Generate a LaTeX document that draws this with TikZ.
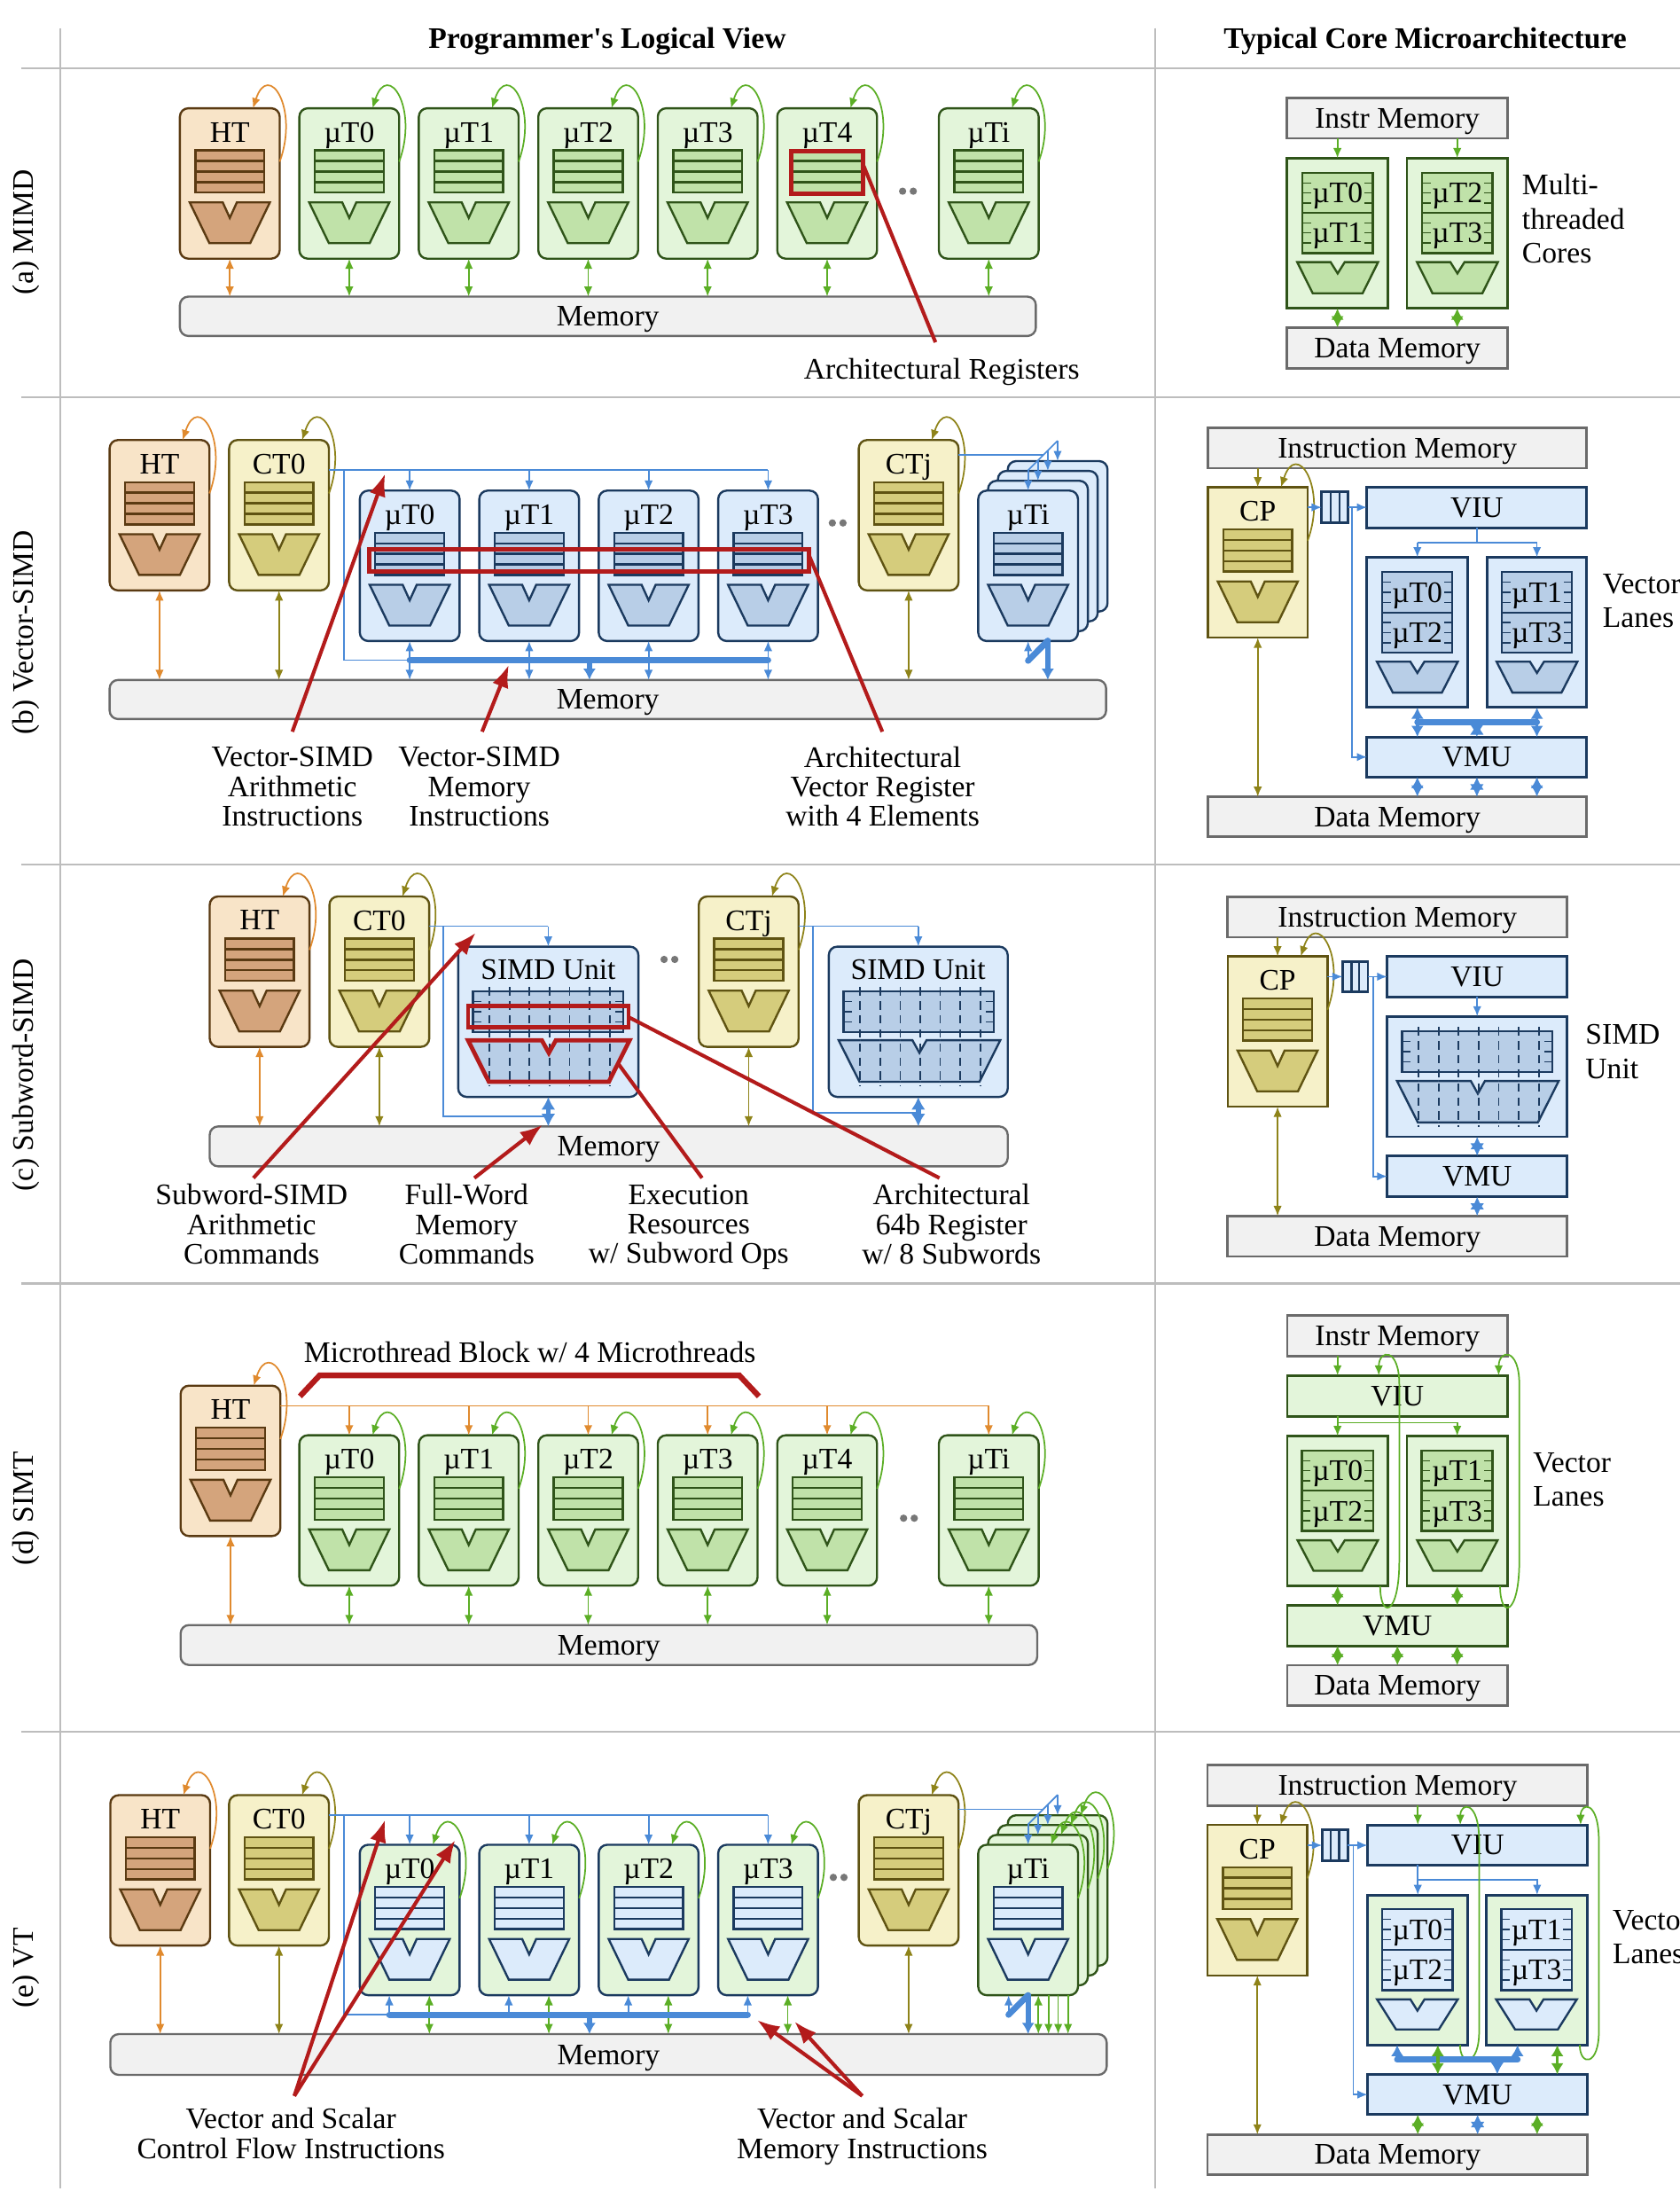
\documentclass[tikz,border=0pt]{standalone}
\usepackage{fontspec}
\setmainfont{Liberation Serif}
\usetikzlibrary{arrows.meta,calc}

\definecolor{htf}{HTML}{F8E4C8}
\definecolor{htd}{HTML}{5A3A12}
\definecolor{hti}{HTML}{D4A47C}
\definecolor{hta}{HTML}{E08A2E}
\definecolor{utf}{HTML}{E3F5DA}
\definecolor{utd}{HTML}{2F5419}
\definecolor{uti}{HTML}{C0E2A9}
\definecolor{uta}{HTML}{5BAE25}
\definecolor{ctf}{HTML}{F6F1C9}
\definecolor{ctd}{HTML}{5F5312}
\definecolor{cti}{HTML}{D5CC7C}
\definecolor{cta}{HTML}{8E8319}
\definecolor{vtf}{HTML}{DCEBFB}
\definecolor{vtd}{HTML}{1B3A5F}
\definecolor{vti}{HTML}{B8CEE7}
\definecolor{vta}{HTML}{4A8AD7}
\definecolor{redc}{HTML}{B31B1B}
\definecolor{memf}{HTML}{F1F1F1}
\definecolor{memd}{HTML}{6A6A6A}
\definecolor{sepc}{HTML}{BDBDBD}
\definecolor{dotc}{HTML}{777777}

\newcommand{\fs}{\fontsize{10.6}{10.5}\selectfont}

\tikzset{
  txt/.style={inner sep=0pt},
  lbl/.style={inner sep=0pt, align=center},
  side/.style={inner sep=0pt, align=left, font=\fontsize{10.6}{12.1}\selectfont},
  lvbox/.style={rounded corners=3pt, line width=0.75pt, inner sep=0pt, outer sep=0pt},
  sqbox/.style={line width=0.9pt, inner sep=0pt, outer sep=0pt},
  memory/.style={fill=memf, draw=memd},
  sepline/.style={draw=sepc, line width=0.7pt},
  htbox/.style={fill=htf, draw=htd}, htreg/.style={fill=hti, draw=htd, line width=0.75pt},
  utbox/.style={fill=utf, draw=utd}, utreg/.style={fill=uti, draw=utd, line width=0.75pt},
  ctbox/.style={fill=ctf, draw=ctd}, ctreg/.style={fill=cti, draw=ctd, line width=0.75pt},
  vtbox/.style={fill=vtf, draw=vtd}, vtreg/.style={fill=vti, draw=vtd, line width=0.75pt},
  vgbox/.style={fill=utf, draw=vtd}, vgreg/.style={fill=vtf, draw=vtd, line width=0.75pt},
  vsbox/.style={fill=utf, draw=utd}, vsreg/.style={fill=vtf, draw=vtd, line width=0.75pt},
  harr/.style={draw=hta, line width=0.55pt},
  garr/.style={draw=uta, line width=0.55pt},
  carr/.style={draw=cta, line width=0.55pt},
  barr/.style={draw=vta, line width=0.55pt},
  gbig/.style={draw=uta, line width=1.1pt, >={Latex[length=4pt,width=4.5pt]}},
  bmid/.style={draw=vta, line width=1.1pt, >={Latex[length=4pt,width=4.5pt]}},
  bbig/.style={draw=vta, line width=1.8pt, >={Latex[length=4.5pt,width=5pt]}},
  busarr/.style={draw=vta, line width=1.8pt, >={Latex[length=4pt,width=4.5pt]}},
  bus/.style={draw=vta, line width=2.2pt, line cap=round},
  redhl/.style={draw=redc, line width=1.5pt},
  redln/.style={draw=redc, line width=1.3pt},
  redarr/.style={draw=redc, line width=1.3pt, -{Latex[length=8pt,width=6pt]}},
  redbr/.style={draw=redc, line width=2pt},
  redalu/.style={draw=redc, line width=1.5pt, fill=none}
}

\newcommand{\alu}[7]{%
  \filldraw[#7] ({#1},{#3}) -- ({(#1+#2)/2-5},{#3}) -- ({(#1+#2)/2},{#3+#6})
    -- ({(#1+#2)/2+5},{#3}) -- ({#2},{#3}) -- ({#2-#5},{#4}) -- ({#1+#5},{#4}) -- cycle;}

\newcommand{\lvunit}[6]{%
  \node[lvbox,#5box,#6,minimum width=35.5pt,minimum height=53.5pt,anchor=north west] (#1) at ({#2},{#3}) {};
  \node[txt] (#1l) at ({#2+35.5},{#3+17}) {#4};
  \filldraw[#5reg] ({#2+11},{#3+30}) rectangle ({#2+60},{#3+60});
  \foreach \yy in {37.5,45,52.5} {\draw[#5reg] ({#2+11},{#3+\yy}) -- ({#2+60},{#3+\yy});}
  \alu{#2+7}{#2+64}{#3+67}{#3+96}{14}{11}{#5reg}}

\newcommand{\selfloop}[2]{%
  \draw[#2,->] ($(#1.north west)+(71,38)$) .. controls ($(#1.north west)+(85,0)$) and ($(#1.north west)+(63,-34)$) .. ($(#1.north west)+(52,0)$);}

\newcommand{\rbox}[7]{%
  \pgfmathsetmacro\rbw{(#4-#2)/2}\pgfmathsetmacro\rbh{(#5-#3)/2}%
  \node[#6,minimum width=\rbw pt,minimum height=\rbh pt] (#1) at ({(#2+#4)/2},{(#3+#5)/2}) {#7};}

\newcommand{\trreg}[8]{%
  \filldraw[#6] (#2,#3) rectangle (#4,#5);
  \draw[#6] (#2,{(#3+#5)/2}) -- (#4,{(#3+#5)/2});
  \foreach \ff in {0.125,0.25,0.375,0.625,0.75,0.875} {%
    \draw[#6,line width=0.45pt] (#2,{#3+\ff*(#5-#3)}) -- ++(6,0);
    \draw[#6,line width=0.45pt] (#4,{#3+\ff*(#5-#3)}) -- ++(-6,0);}
  \node[txt] (#1a) at ({(#2+#4)/2},{#3+0.25*(#5-#3)}) {#7};
  \node[txt] (#1b) at ({(#2+#4)/2},{#3+0.75*(#5-#3)}) {#8};}

\newcommand{\simdcore}[4]{%
  \filldraw[#4] ({#1+10.5},{#2}) rectangle ({#1+117.5},{#2+29});
  \foreach \ff in {0.25,0.5,0.75} {%
    \draw[#4,line width=0.45pt] ({#1+10.5},{#2+29*\ff}) -- ++(6,0);
    \draw[#4,line width=0.45pt] ({#1+117.5},{#2+29*\ff}) -- ++(-6,0);}
  \alu{#1+7}{#1+122}{#3}{#3+29.5}{14.8}{9}{#4}
  \foreach \dd in {0,...,6} {\draw[#4,densely dashed,line width=0.55pt] ({#1+22.3+14.25*\dd},{#2-3}) -- ({#1+22.3+14.25*\dd},{#3+33});}}

\newcommand{\ellip}[3]{%
  \coordinate (#1) at (#2,#3);
  \fill[dotc] ($(#1)+(-3.8,0)$) circle (1.3pt) ($(#1)+(3.8,0)$) circle (1.3pt);}

\begin{document}
\begin{tikzpicture}[x=0.5pt,y=-0.5pt,font=\fs,>={Latex[length=3.6pt,width=3pt]},every node/.append style={text depth=0pt}]
\useasboundingbox (0,0) rectangle (1195,1570);

% headings and rules
\node[txt,font=\fs\bfseries] (hlv) at (432,27) {Programmer\textquotesingle s Logical View};
\node[txt,font=\fs\bfseries] (hcm) at (1014,27) {Typical Core Microarchitecture};
\draw[sepline] (15,48.6) -- (1195,48.6);
\foreach \yy in {282.8,615,913,1232} {\draw[sepline] (15,\yy) -- (1195,\yy);}
\draw[sepline] (43,20) -- (43,1557);
\draw[sepline] (822,20) -- (822,1557);
\node[txt,rotate=90] (sa) at (16,165) {(a) MIMD};
\node[txt,rotate=90] (sb) at (16,450) {(b) Vector-SIMD};
\node[txt,rotate=90] (sc) at (16,765) {(c) Subword-SIMD};
\node[txt,rotate=90] (sd) at (16,1073) {(d) SIMT};
\node[txt,rotate=90] (se) at (16,1400) {(e) VT};

% (a) MIMD
\lvunit{aht}{128}{77}{HT}{ht}{}
\foreach \k/\lab in {0/µT0,1/µT1,2/µT2,3/µT3,4/µT4} {\lvunit{aut\k}{213+85*\k}{77}{\lab}{ut}{}}
\lvunit{auti}{668}{77}{µTi}{ut}{}
\rbox{mema}{128}{211}{737}{239}{memory,lvbox}{Memory}
\selfloop{aht}{harr}
\draw[harr,<->] (aht.south) -- (aht.south |- mema.north);
\foreach \nd in {aut0,aut1,aut2,aut3,aut4,auti} {\selfloop{\nd}{garr}
  \draw[garr,<->] (\nd.south) -- (\nd.south |- mema.north);}
\ellip{adots}{646}{136}
\draw[redhl] (563,107.5) rectangle (614,138);
\node[txt] (aar) at (670,262) {Architectural Registers};
\coordinate (aarp) at (614.5,118);
\coordinate (aarq) at (665.6,243.5);
\draw[redln] (aarp) -- (aarq);

\rbox{ima}{915.8}{69.8}{1072.6}{98.4}{memory,sqbox}{Instr Memory}
\rbox{ca0}{915.8}{112.5}{987.4}{219.4}{utbox,sqbox}{}
\rbox{ca1}{1001}{112.5}{1072.6}{219.4}{utbox,sqbox}{}
\trreg{ra0}{926.6}{123}{976.7}{180}{utreg}{µT0}{µT1}
\trreg{ra1}{1011.8}{123}{1061.9}{180}{utreg}{µT2}{µT3}
\alu{923}{980.5}{186.5}{208.6}{11}{8}{utreg}
\alu{1008.2}{1065.7}{186.5}{208.6}{11}{8}{utreg}
\rbox{dma}{915.8}{233}{1072.6}{262}{memory,sqbox}{Data Memory}
\foreach \nd in {ca0,ca1} {\draw[garr,->] (\nd.north |- ima.south) -- (\nd.north);
  \draw[gbig,<->] (\nd.south) -- (\nd.south |- dma.north);}
\node[side,anchor=west] (mtc) at (1082.6,155.5) {Multi-\\threaded\\Cores};

% (b) Vector-SIMD
\lvunit{bht}{78}{313}{HT}{ht}{}
\lvunit{bct0}{163}{313}{CT0}{ct}{}
\foreach \k/\lab in {0/µT0,1/µT1,2/µT2,3/µT3} {\lvunit{bt\k}{256+85*\k}{349}{\lab}{vt}{}}
\lvunit{bctj}{611}{313}{CTj}{ct}{}
\foreach \k in {3,2,1} {\node[lvbox,vtbox,minimum width=35.5pt,minimum height=53.5pt,anchor=north west] (bs\k) at ({696+7*\k},{349-7*\k}) {};}
\lvunit{bti}{696}{349}{µTi}{vt}{}
\rbox{memb}{78}{483.7}{787}{511.5}{memory,lvbox}{Memory}
\selfloop{bht}{harr}
\selfloop{bct0}{carr}
\selfloop{bctj}{carr}
\draw[harr,<->] (bht.south) -- (bht.south |- memb.north);
\draw[carr,<->] (bct0.south) -- (bct0.south |- memb.north);
\draw[carr,<->] (bctj.south) -- (bctj.south |- memb.north);
\coordinate (bsp) at (244.6,334.4);
\coordinate (bbb) at (244.6,469.6);
\draw[barr] (bct0.east |- bsp) -- (bt3.north |- bsp);
\foreach \k in {0,...,3} {\draw[barr,->] (bt\k.north |- bsp) -- (bt\k.north);
  \draw[barr,<->] (bt\k.south) -- (bt\k.south |- memb.north);}
\draw[barr] (bsp) -- (bbb) -- (bt0.south |- bbb);
\draw[bus] (bt0.south |- bbb) -- (bt3.south |- bbb);
\coordinate (bbm) at (419.4,469.6);
\draw[busarr,->] (bbm) -- (bbm |- memb.north);
\coordinate (bfj) at (742.5,323.5);
\draw[barr] (bctj.east |- bfj) -- (bfj);
\draw[barr] ([yshift=7.25pt]bs3.north) -- ([yshift=7.25pt]bti.north);
\foreach \nd in {bs3,bs2,bs1,bti} {\draw[barr,->] ([yshift=7.25pt]\nd.north) -- (\nd.north);}
\coordinate (bsb) at (731.5,470);
\coordinate (bsd) at (745.5,455.8);
\draw[barr,->] (bsb) -- (bsb |- bti.south);
\draw[bus] (bsb) -- (bsd);
\draw[busarr,->] (bsd) -- (bsd |- memb.north);
\ellip{bdots}{596}{372}
\draw[redhl] (262.5,390.6) rectangle (575.8,406.4);
\node[lbl] (lbva) at (208,559.5) {Vector-SIMD\\Arithmetic\\Instructions};
\node[lbl] (lbvm) at (341,559.5) {Vector-SIMD\\Memory\\Instructions};
\node[lbl] (lbar) at (628,559.5) {Architectural\\Vector Register\\with 4 Elements};
\coordinate (bra) at (208,520.5);
\coordinate (brm) at (343,520.5);
\coordinate (brr) at (627.8,520.5);
\draw[redarr] (bra) -- (274,337);
\draw[redarr] (brm) -- (362,473);
\draw[redln] (brr) -- (575.8,395.4);

\rbox{imb}{859.4}{304.3}{1129}{333}{memory,sqbox}{Instruction Memory}
\lvunit{cpb}{859.4}{346.6}{CP}{ct}{sharp corners}
\rbox{qb}{940.4}{350}{959.3}{371.8}{vtbox,sqbox}{}
\draw[vtreg] (946.7,350) -- (946.7,371.8) (953,350) -- (953,371.8);
\rbox{viub}{972.6}{346.6}{1129}{375.4}{vtbox,sqbox}{VIU}
\rbox{lb0}{972.6}{396.4}{1044.3}{503.3}{vtbox,sqbox}{}
\rbox{lb1}{1058}{396.4}{1129}{503.3}{vtbox,sqbox}{}
\trreg{rb0}{983.5}{407}{1033.3}{464.4}{vtreg}{µT0}{µT2}
\trreg{rb1}{1068.6}{407}{1118.4}{464.4}{vtreg}{µT1}{µT3}
\alu{979.7}{1037.2}{470.7}{492.7}{11.3}{8}{vtreg}
\alu{1064.8}{1122.3}{470.7}{492.7}{11.3}{8}{vtreg}
\rbox{vmub}{972.6}{524.3}{1129}{552.7}{vtbox,sqbox}{VMU}
\rbox{dmb}{859.4}{566.8}{1129}{595.2}{memory,sqbox}{Data Memory}
\draw[carr,->] (cpb.north |- imb.south) -- (cpb.north);
\draw[carr,<->] (cpb.south) -- (cpb.south |- dmb.north);
\selfloop{cpb}{carr}
\draw[barr,->] (cpb.east |- qb.west) -- (qb.west);
\draw[barr,->] (qb.east) -- (viub.west |- qb.east);
\coordinate (qbs) at (962,360.9);
\draw[barr,->] (qbs) -- (qbs |- vmub.west) -- (vmub.west);
\coordinate (vbr) at (1050.8,385.9);
\draw[barr] (viub.south) -- (vbr);
\draw[barr] (lb0.north |- vbr) -- (lb1.north |- vbr);
\draw[barr,->] (lb0.north |- vbr) -- (lb0.north);
\draw[barr,->] (lb1.north |- vbr) -- (lb1.north);
\coordinate (vbb) at (1050.8,513.6);
\draw[bus] (lb0.south |- vbb) -- (lb1.south |- vbb);
\foreach \nd in {lb0,lb1} {\draw[bmid,<->] (\nd.south) -- (\nd.south |- vmub.north);
  \draw[bmid,<->] (\nd.south |- vmub.south) -- (\nd.south |- dmb.north);}
\draw[bbig,<->] (vbb) -- (vbb |- vmub.north);
\draw[bbig,<->] (vmub.south) -- (vmub.south |- dmb.north);
\node[side,anchor=west] (vlb) at (1140,427.5) {Vector\\Lanes};

% (c) Subword-SIMD
\lvunit{cht}{149.2}{637.7}{HT}{ht}{}
\lvunit{cct0}{234.4}{637.7}{CT0}{ct}{}
\rbox{cs0}{326}{673.4}{454.2}{780.3}{vtbox,lvbox}{}
\node[txt] (cs0l) at (390.1,689.8) {SIMD Unit};
\simdcore{326}{705.2}{740}{vtreg}
\lvunit{cctj}{497.2}{637.7}{CTj}{ct}{}
\rbox{cs1}{589.7}{673.4}{717}{780.3}{vtbox,lvbox}{}
\node[txt] (cs1l) at (653.3,689.8) {SIMD Unit};
\simdcore{589.7}{705.2}{740}{vtreg}
\rbox{memc}{149.2}{801.3}{717}{829.7}{memory,lvbox}{Memory}
\selfloop{cht}{harr}
\selfloop{cct0}{carr}
\selfloop{cctj}{carr}
\draw[harr,<->] (cht.south) -- (cht.south |- memc.north);
\draw[carr,<->] (cct0.south) -- (cct0.south |- memc.north);
\draw[carr,<->] (cctj.south) -- (cctj.south |- memc.north);
\coordinate (csp0) at (315.3,658.9);
\coordinate (csb0) at (315.3,793.9);
\draw[barr] (cct0.east |- csp0) -- (cs0.north |- csp0);
\draw[barr,->] (cs0.north |- csp0) -- (cs0.north);
\draw[barr] (csp0) -- (csb0) -- (cs0.south |- csb0);
\draw[bbig,<->] (cs0.south) -- (cs0.south |- memc.north);
\coordinate (csp1) at (578.2,658.9);
\coordinate (csb1) at (578.2,791.4);
\draw[barr] (cctj.east |- csp1) -- (cs1.north |- csp1);
\draw[barr,->] (cs1.north |- csp1) -- (cs1.north);
\draw[barr] (csp1) -- (csb1) -- (cs1.south |- csb1);
\draw[bbig,<->] (cs1.south) -- (cs1.south |- memc.north);
\ellip{cdots}{476.3}{682.5}
\draw[redhl] (333,715.5) rectangle (447.2,730.8);
\alu{333}{448}{740}{769.5}{14.8}{9}{redalu}
\node[lbl] (lcs) at (179,870.7) {Subword-SIMD\\Arithmetic\\Commands};
\node[lbl] (lcf) at (332,870.7) {Full-Word\\Memory\\Commands};
\node[lbl] (lce) at (490,870.7) {Execution\\Resources\\w/ Subword Ops};
\node[lbl] (lca) at (677,870.7) {Architectural\\64b Register\\w/ 8 Subwords};
\coordinate (crs) at (180.3,838);
\coordinate (crf) at (337.5,838);
\coordinate (cre) at (499.5,838);
\coordinate (cra) at (668.4,838);
\draw[redarr] (crs) -- (338.5,663.5);
\draw[redarr] (crf) -- (386,800.2);
\draw[redln] (cre) -- (439.4,756);
\draw[redln] (cra) -- (447.2,723.5);

\rbox{imc}{873.5}{637.9}{1115}{666.7}{memory,sqbox}{Instruction Memory}
\lvunit{cpc}{873.5}{680.3}{CP}{ct}{sharp corners}
\rbox{qc}{955.2}{683.9}{973.3}{705.6}{vtbox,sqbox}{}
\draw[vtreg] (961.5,683.9) -- (961.5,705.6) (967,683.9) -- (967,705.6);
\rbox{viuc}{987}{680.3}{1115}{709.1}{vtbox,sqbox}{VIU}
\rbox{sc}{987}{723}{1115}{808.6}{vtbox,sqbox}{}
\simdcore{987}{733.6}{769}{vtreg}
\rbox{vmuc}{987}{822.3}{1115}{851.3}{vtbox,sqbox}{VMU}
\rbox{dmc}{873.5}{865}{1115}{893.8}{memory,sqbox}{Data Memory}
\draw[carr,->] (cpc.north |- imc.south) -- (cpc.north);
\draw[carr,<->] (cpc.south) -- (cpc.south |- dmc.north);
\selfloop{cpc}{carr}
\draw[barr,->] (cpc.east |- qc.west) -- (qc.west);
\draw[barr,->] (qc.east) -- (viuc.west |- qc.east);
\coordinate (qcs) at (976.9,694.75);
\draw[barr,->] (qcs) -- (qcs |- vmuc.west) -- (vmuc.west);
\draw[barr,->] (viuc.south) -- (sc.north);
\draw[bbig,<->] (sc.south) -- (vmuc.north);
\draw[bbig,<->] (vmuc.south) -- (vmuc.south |- dmc.north);
\node[side,anchor=west] (suc) at (1127.7,748) {SIMD\\Unit};

% (d) SIMT
\lvunit{dht}{128.5}{985.7}{HT}{ht}{}
\foreach \k/\lab in {0/µT0,1/µT1,2/µT2,3/µT3,4/µT4} {\lvunit{dut\k}{213+85*\k}{1021}{\lab}{ut}{}}
\lvunit{duti}{668}{1021}{µTi}{ut}{}
\rbox{memd}{128.5}{1156}{738}{1184.4}{memory,lvbox}{Memory}
\selfloop{dht}{harr}
\draw[harr,<->] (dht.south) -- (dht.south |- memd.north);
\coordinate (dsp) at (703.5,1000);
\draw[harr] (dht.east |- dsp) -- (dsp);
\foreach \nd in {dut0,dut1,dut2,dut3,dut4,duti} {\draw[harr,->] (\nd.north |- dsp) -- (\nd.north);
  \selfloop{\nd}{garr}
  \draw[garr,<->] (\nd.south) -- (\nd.south |- memd.north);}
\ellip{ddots}{646.7}{1080}
\draw[redbr] (213.4,993.3) -- (227.4,978.4) -- (526,978.4) -- (540,993.3);
\node[txt] (mtb) at (377,962) {Microthread Block w/ 4 Microthreads};

\rbox{imd}{915.9}{935.9}{1072.6}{964.7}{memory,sqbox}{Instr Memory}
\rbox{viud}{915.9}{978.5}{1072.6}{1007.4}{utbox,sqbox}{VIU}
\rbox{ld0}{915.9}{1021.5}{987.4}{1128.3}{utbox,sqbox}{}
\rbox{ld1}{1001}{1021.5}{1072.6}{1128.3}{utbox,sqbox}{}
\trreg{rd0}{926.4}{1032}{976.9}{1089}{utreg}{µT0}{µT2}
\trreg{rd1}{1011.5}{1032}{1062}{1089}{utreg}{µT1}{µT3}
\alu{923.2}{980.4}{1095.7}{1117.4}{11.4}{8}{utreg}
\alu{1008.3}{1065.5}{1095.7}{1117.4}{11.4}{8}{utreg}
\rbox{vmud}{915.9}{1142}{1072.6}{1170.8}{utbox,sqbox}{VMU}
\rbox{dmd}{915.9}{1184.6}{1072.6}{1213.5}{memory,sqbox}{Data Memory}
\draw[garr,->] (ld0.north |- imd.south) -- (ld0.north |- viud.north);
\coordinate (dvb) at (951.65,1012);
\draw[garr,->] (ld0.north |- viud.south) -- (ld0.north);
\draw[garr,->] (dvb) -- (ld1.north |- dvb) -- (ld1.north);
\foreach \nd in {ld0,ld1} {\draw[gbig,<->] (\nd.south) -- (\nd.south |- vmud.north);
  \draw[gbig,<->] (\nd.south |- vmud.south) -- (\nd.south |- dmd.north);}
\draw[gbig,<->] (vmud.south) -- (vmud.south |- dmd.north);
\coordinate (dl0s) at (982,1128.3);
\coordinate (dl0e) at (981,978.5);
\coordinate (dl1s) at (1067.3,1128.3);
\coordinate (dl1e) at (1066.3,978.5);
\draw[garr,->] (dl0s) .. controls (982,1152) and (995.6,1150) .. (995.6,1110) -- (995.6,985) .. controls (995.6,958) and (981,960) .. (dl0e);
\draw[garr,->] (dl1s) .. controls (1067.3,1152) and (1081,1150) .. (1081,1110) -- (1081,985) .. controls (1081,958) and (1066.3,960) .. (dl1e);
\node[side,anchor=west] (vld) at (1090.4,1052.3) {Vector\\Lanes};

% (e) VT
\lvunit{eht}{78.5}{1277}{HT}{ht}{}
\lvunit{ect0}{163}{1277}{CT0}{ct}{}
\foreach \k/\lab in {0/µT0,1/µT1,2/µT2,3/µT3} {\lvunit{eut\k}{256+85*\k}{1312.3}{\lab}{vg}{}}
\lvunit{ectj}{611}{1277}{CTj}{ct}{}
\foreach \k in {3,2,1} {\node[lvbox,vsbox,minimum width=35.5pt,minimum height=53.5pt,anchor=north west] (es\k) at ({696+7*\k},{1312.3-7*\k}) {};}
\lvunit{euti}{696}{1312.3}{µTi}{vs}{}
\rbox{meme}{78.5}{1447}{787.4}{1476}{memory,lvbox}{Memory}
\selfloop{eht}{harr}
\selfloop{ect0}{carr}
\selfloop{ectj}{carr}
\foreach \nd in {eut0,eut1,eut2,eut3,es3,es2,es1,euti} {\selfloop{\nd}{garr}}
\draw[harr,<->] (eht.south) -- (eht.south |- meme.north);
\draw[carr,<->] (ect0.south) -- (ect0.south |- meme.north);
\draw[carr,<->] (ectj.south) -- (ectj.south |- meme.north);
\coordinate (esp) at (244.6,1291.3);
\coordinate (ebb) at (244.6,1433.2);
\draw[barr] (ect0.east |- esp) -- (eut3.north |- esp);
\foreach \k in {0,...,3} {\draw[barr,->] (eut\k.north |- esp) -- (eut\k.north);
  \coordinate (eup\k) at ({277+85*\k},1433.2);
  \draw[barr,->] (eup\k) -- (eup\k |- eut\k.south);
  \coordinate (egm\k) at ({305.5+85*\k},1419.3);
  \draw[garr,<->] (egm\k) -- (egm\k |- meme.north);}
\draw[barr] (esp) -- (ebb) -- (eup0);
\draw[bus] (eup0) -- (eup3);
\coordinate (ebm) at (419.4,1433.2);
\draw[busarr,->] (ebm) -- (ebm |- meme.north);
\coordinate (efj) at (742.3,1287);
\draw[barr] (ectj.east |- efj) -- (efj);
\draw[barr] ([yshift=7.25pt]es3.north) -- ([yshift=7.25pt]euti.north);
\foreach \nd in {es3,es2,es1,euti} {\draw[barr,->] ([yshift=7.25pt]\nd.north) -- (\nd.north);}
\coordinate (esb) at (717.6,1433.2);
\draw[barr,->] (esb) -- (esb |- euti.south);
\draw[bus] (esb) -- (euti.south);
\draw[busarr,->] (euti.south) -- (euti.south |- meme.north);
\coordinate (eg0) at (738.8,1419.3);
\draw[garr,<->] (eg0) -- (eg0 |- meme.north);
\foreach \xx in {746,752.9,759.9} {\coordinate (egx) at (\xx,1419.3);
  \draw[garr,->] (egx) -- (egx |- meme.north);}
\ellip{edots}{596.7}{1335.5}
\node[lbl] (lvc) at (207,1517.5) {Vector and Scalar\\Control Flow Instructions};
\node[lbl] (lvm) at (613.5,1517.5) {Vector and Scalar\\Memory Instructions};
\coordinate (erc) at (209.4,1491);
\coordinate (erm) at (613.5,1491);
\draw[redarr] (erc) -- (274,1294.5);
\draw[redarr] (erc) -- (323.9,1309);
\draw[redarr] (erm) -- (538.7,1437);
\draw[redarr] (erm) -- (565.3,1438);

\rbox{ime}{859.1}{1255.5}{1129.6}{1284.3}{memory,sqbox}{Instruction Memory}
\lvunit{cpe}{859.1}{1298.2}{CP}{ct}{sharp corners}
\rbox{qe}{940.6}{1301.8}{959}{1323.5}{vtbox,sqbox}{}
\draw[vtreg] (946.9,1301.8) -- (946.9,1323.5) (952.7,1301.8) -- (952.7,1323.5);
\rbox{viue}{973}{1298.2}{1129.6}{1326.7}{vtbox,sqbox}{VIU}
\rbox{le0}{973}{1348}{1044.5}{1454.7}{vgbox,sqbox}{}
\rbox{le1}{1057.7}{1348}{1129.6}{1454.7}{vgbox,sqbox}{}
\trreg{re0}{983.5}{1358.2}{1033.6}{1415.8}{vgreg}{µT0}{µT2}
\trreg{re1}{1068.2}{1358.2}{1118.3}{1415.8}{vgreg}{µT1}{µT3}
\alu{979.8}{1037.2}{1422.3}{1443.7}{13.5}{8}{vgreg}
\alu{1064.5}{1121.9}{1422.3}{1443.7}{13.5}{8}{vgreg}
\rbox{vmue}{973}{1475.7}{1129.6}{1504.3}{vtbox,sqbox}{VMU}
\rbox{dme}{859.1}{1518.4}{1129.6}{1546.8}{memory,sqbox}{Data Memory}
\draw[carr,->] (cpe.north |- ime.south) -- (cpe.north);
\draw[carr,<->] (cpe.south) -- (cpe.south |- dme.north);
\selfloop{cpe}{carr}
\draw[garr,->] (le0.north |- ime.south) -- (le0.north |- viue.north);
\draw[barr,->] (cpe.east |- qe.west) -- (qe.west);
\draw[barr,->] (qe.east) -- (viue.west |- qe.east);
\coordinate (qes) at (962.8,1312.65);
\draw[barr,->] (qes) -- (qes |- vmue.west) -- (vmue.west);
\coordinate (evb) at (1008.75,1337);
\draw[barr,->] (le0.north |- viue.south) -- (le0.north);
\draw[barr,->] (evb) -- (le1.north |- evb) -- (le1.north);
\coordinate (el0s) at (1038.8,1454.7);
\coordinate (el0e) at (1039,1298.2);
\coordinate (el1s) at (1124,1454.7);
\coordinate (el1e) at (1124.6,1298.2);
\draw[garr,->] (el0s) .. controls (1038.8,1470) and (1052.4,1470) .. (1052.4,1445) -- (1052.4,1310) .. controls (1052.4,1280) and (1039,1282) .. (el0e);
\draw[garr,->] (el1s) .. controls (1124,1470) and (1137.6,1470) .. (1137.6,1445) -- (1137.6,1310) .. controls (1137.6,1280) and (1124.6,1282) .. (el1e);
\coordinate (ebl) at (994.1,1465.2);
\coordinate (ebr) at (1079.7,1465.2);
\coordinate (ebc) at (1065.3,1465.2);
\draw[bus] (ebl) -- (ebr);
\draw[bmid,->] (ebl) -- (ebl |- le0.south);
\draw[bmid,->] (ebr) -- (ebr |- le1.south);
\draw[bbig,->] (ebc) -- (ebc |- vmue.north);
\coordinate (eg1) at (1023,1454.7);
\coordinate (eg2) at (1108,1454.7);
\draw[gbig,<->] (eg1) -- (eg1 |- vmue.north);
\draw[gbig,<->] (eg2) -- (eg2 |- vmue.north);
\draw[gbig,<->] (le0.south |- vmue.south) -- (le0.south |- dme.north);
\draw[gbig,<->] (le1.south |- vmue.south) -- (le1.south |- dme.north);
\draw[bbig,<->] (vmue.south) -- (vmue.south |- dme.north);
\node[side,anchor=west] (vle) at (1147,1378) {Vector\\Lanes};
\end{tikzpicture}
\end{document}
